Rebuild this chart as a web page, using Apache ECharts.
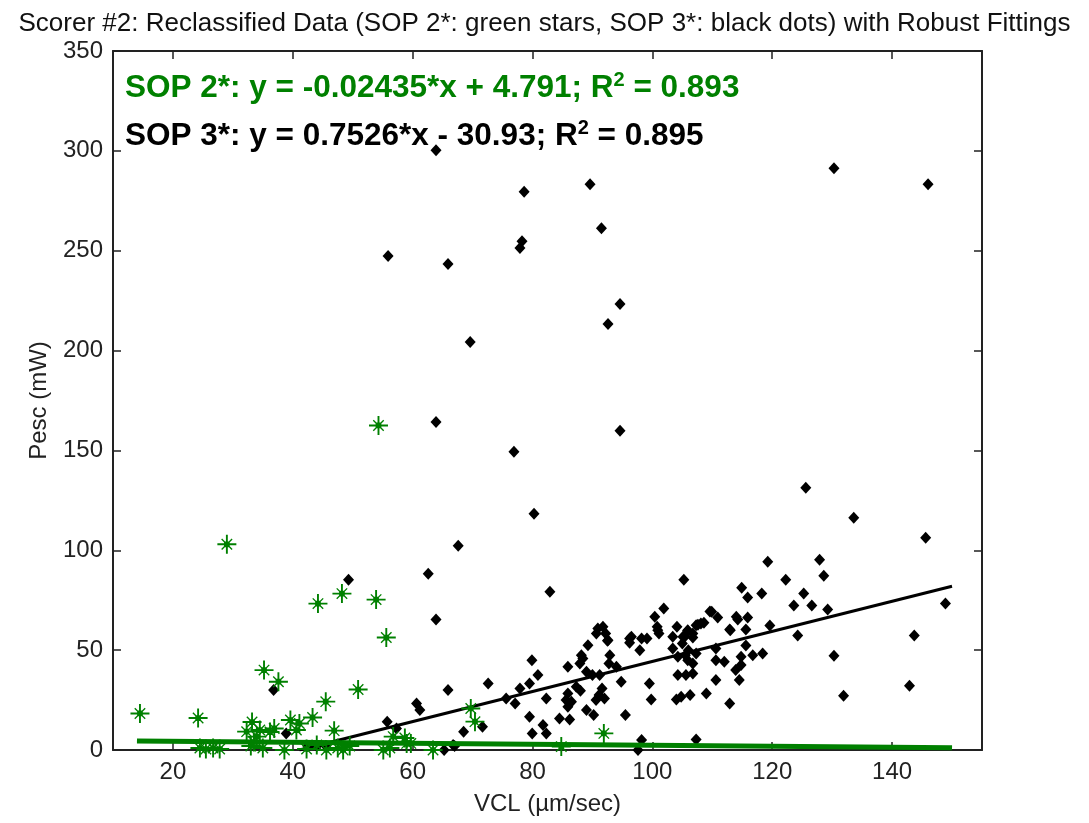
<!DOCTYPE html>
<html>
<head>
<meta charset="utf-8">
<script src="https://cdn.jsdelivr.net/npm/echarts@6/dist/echarts.min.js"></script>
<style>
  html, body { margin: 0; padding: 0; background: #fff; }
  #chart { width: 1089px; height: 823px; }
</style>
</head>
<body>
<div id="chart"></div>
<script>
// tick labels
var xTicks = [20, 40, 60, 80, 100, 120, 140];

// SOP 2* (green stars): [VCL, Pesc]
var sop2 = [
  [14.5, 18.3], [24.2, 16], [24.5, 1], [25.5, 0.5], [26.7, 1], [27.8, 0.5], [29, 103],
  [32.3, 9.2], [33.2, 14], [33.5, 4], [34, 6.7], [34.5, 10], [33, 2], [35, 1],
  [35.2, 40], [36.2, 9], [36.9, 10.8], [37.6, 34.2], [38.6, 0], [39.6, 15], [40.6, 10],
  [41.1, 13.3], [42.3, 0.5], [43.3, 16.3], [44.2, 73.3], [44, 2.5], [45.5, 24.2],
  [45.6, 0], [46.9, 9.7], [47.5, 1], [48.2, 78.3], [48.4, 0], [49.5, 2], [50.9, 30.3],
  [53.9, 75.3], [54.3, 162.5], [55.1, 0], [55.6, 56.3], [56.2, 1], [56.75, 6.7],
  [58.7, 6], [59, 3.3], [59.7, 3.3], [63.4, 0], [69.7, 20.8], [70.4, 14.2],
  [84.8, 1.7], [91.9, 8.3]
];

// SOP 3* (black dots): [VCL, Pesc]
var sop3 = [
  [63.9, 300.3], [78.6, 279.5], [89.6, 283.3], [91.5, 261.3], [78.25, 254.7], [77.9, 251.3],
  [55.9, 247.3], [65.9, 243.3], [94.6, 223.3], [92.6, 213.3], [69.6, 204.3], [63.9, 164.2],
  [94.6, 159.8], [76.9, 149.3], [80.25, 118.3], [67.6, 102.3], [62.6, 88.3], [49.3, 85.2],
  [82.9, 79.3], [63.9, 65.3], [105.25, 85.3], [130.3, 291.3], [146, 283.3], [125.6, 131.3],
  [133.6, 116.3], [145.6, 106.3], [119.25, 94.2], [127.9, 95.3], [128.6, 87.3], [114.9, 81.3],
  [115.9, 76.3], [118.25, 78.3], [122.25, 85.3], [125.25, 78.3], [123.6, 72.3], [126.6, 72.3],
  [129.25, 70.3], [148.9, 73.3], [143.7, 57.3], [124.25, 57.3], [109.6, 69.3], [110.9, 66.3],
  [108.6, 63.7], [107.6, 62.7], [114.25, 65.3], [115.9, 66.3], [112.9, 60.3], [115.6, 60.3],
  [119.6, 62.3], [115.6, 52.3], [105.9, 59.7], [130.3, 47.2], [131.9, 27.2], [142.9, 32.2],
  [101.9, 70.8], [100.4, 66.7], [109.9, 69.2], [100.8, 61.7], [104.1, 61.7], [105.9, 60],
  [108.1, 63.3], [114, 66.7], [113, 60], [90.9, 60.8], [91.75, 61.7], [90.65, 58.3],
  [92.2, 58.3], [92.5, 54.7], [96.5, 56.7], [98.2, 55.8], [99.1, 55.8], [96.2, 53.7],
  [97.9, 50], [101.1, 58.3], [103.4, 56.7], [105.4, 56.7], [106.75, 56.3], [105, 53.3],
  [103.4, 50.8], [105.5, 47.5], [107.3, 48.3], [110.6, 50.8], [104.25, 46.7], [105.9, 45],
  [106.75, 43.3], [110.6, 45], [112, 44.2], [114.8, 46.7], [116.75, 47.5], [118.4, 48.3],
  [114.8, 42.5], [113.9, 40], [114.5, 35], [110.6, 35], [105.6, 37.5], [106.75, 38.3],
  [104.25, 37.5], [99.5, 33.3], [99.8, 25.3], [104, 25.3], [104.8, 26.7], [106.3, 27.5],
  [109, 28.3], [112.9, 23.3], [107.3, 5.3], [98.2, 5], [97.6, 0], [94.8, 34.2], [95.5, 17.5],
  [91.6, 30.8], [91.1, 27.5], [92, 25.8], [90.6, 25], [91.2, 37.5], [92.75, 43.3], [94, 41.7],
  [92.9, 47.5], [90.2, 17.5], [89, 20], [88, 29.7], [87.3, 31.7], [85.9, 28.3], [85.6, 25],
  [85.9, 21.7], [86.5, 24.2], [84.5, 15.8], [86.2, 15.3], [85.9, 41.7], [87.9, 43.3],
  [88.4, 45.8], [89.25, 52.5], [88.15, 47.5], [89, 39.2], [90, 37.5], [82.3, 25.8],
  [80.9, 37.5], [79.9, 45], [79.5, 33.3], [77.9, 30.8], [77.1, 23.3], [75.6, 25.8],
  [79.5, 16.7], [81.75, 12.5], [82.3, 8.3], [79.95, 8.3], [72.6, 33.3], [65.9, 30],
  [68.5, 9.2], [71.65, 11.7], [65.25, 0], [67, 2], [36.8, 30], [60.65, 23.3], [61.2, 20],
  [55.75, 14.2], [57.3, 10.8], [38.9, 8.3], [42.5, 2], [44, 2], [45.5, 2], [66.75, 2.5],
  [92.6, 55], [96.2, 55.8], [100.9, 60], [107.3, 62.5], [105.1, 56.7], [106.75, 58.3], [106, 50]
];

// robust fit lines (end points)
var sop2Fit = [[14, 4.45], [150, 1.14]];
var sop3Fit = [[41.1, 0], [150, 81.96]];

var GREEN = '#008000';
// MATLAB-like '*' marker
var starPath = 'path://M9,0h2v20h-2z M0,9h20v2h-20z M4,5L5,4L16,15L15,16Z M15,4L16,5L5,16L4,15Z M7,7h6v6h-6z';

var chart = echarts.init(document.getElementById('chart'));

var axisCommon = {
  axisLine: { show: true, onZero: false, lineStyle: { color: '#222', width: 2 } },
  splitLine: { show: false }
};

chart.setOption({
  animation: false,
  backgroundColor: '#fff',
  textStyle: { fontFamily: 'Liberation Sans, Arial, sans-serif' },
  title: [
    {
      text: 'Scorer #2: Reclassified Data (SOP 2*: green stars, SOP 3*: black dots) with Robust Fittings',
      left: 'center', top: 6,
      textStyle: { fontSize: 26, fontWeight: 'normal', color: '#111' }
    },
    {
      text: '{a|SOP 2*: y = -0.02435*x + 4.791; R}{s|2}{a| = 0.893}',
      left: 120, top: 65,
      textStyle: {
        rich: {
          a: { fontSize: 31.5, fontWeight: 'bold', color: GREEN },
          s: { fontSize: 20, fontWeight: 'bold', color: GREEN, padding: [0, 0, 17, 0] }
        }
      }
    },
    {
      text: '{a|SOP 3*: y = 0.7526*x - 30.93; R}{s|2}{a| = 0.895}',
      left: 120, top: 113,
      textStyle: {
        rich: {
          a: { fontSize: 31.5, fontWeight: 'bold', color: '#000' },
          s: { fontSize: 20, fontWeight: 'bold', color: '#000', padding: [0, 0, 17, 0] }
        }
      }
    }
  ],
  grid: { left: 113, right: 107, top: 51, bottom: 73, containLabel: false },
  xAxis: [
    Object.assign({}, axisCommon, {
      type: 'value', min: 10, max: 155, position: 'bottom',
      name: 'VCL (\u00b5m/sec)', nameLocation: 'middle', nameGap: 42,
      nameTextStyle: { fontSize: 24, color: '#222' },
      axisTick: { show: true, inside: true, length: 8, customValues: xTicks, lineStyle: { color: '#222', width: 1.5 } },
      axisLabel: { customValues: xTicks, fontSize: 24, color: '#222', margin: 10 }
    }),
    Object.assign({}, axisCommon, {
      type: 'value', min: 10, max: 155, position: 'top',
      axisTick: { show: true, inside: true, length: 8, customValues: xTicks, lineStyle: { color: '#222', width: 1.5 } },
      axisLabel: { show: false }
    })
  ],
  yAxis: [
    Object.assign({}, axisCommon, {
      type: 'value', min: 0, max: 350, interval: 50, position: 'left',
      name: 'Pesc (mW)', nameLocation: 'middle', nameGap: 62,
      nameTextStyle: { fontSize: 24, color: '#222' },
      axisTick: { show: true, inside: true, length: 8, lineStyle: { color: '#222', width: 1.5 } },
      axisLabel: { fontSize: 24, color: '#222', margin: 10 }
    }),
    Object.assign({}, axisCommon, {
      type: 'value', min: 0, max: 350, interval: 50, position: 'right',
      axisTick: { show: true, inside: true, length: 8, lineStyle: { color: '#222', width: 1.5 } },
      axisLabel: { show: false }
    })
  ],
  series: [
    {
      name: 'SOP 3*', type: 'scatter', data: sop3,
      symbol: 'diamond', symbolSize: [11, 12],
      itemStyle: { color: '#000', opacity: 1 }, z: 2
    },
    {
      name: 'SOP 3* fit', type: 'line', data: sop3Fit, showSymbol: false,
      lineStyle: { color: '#000', width: 3 }, z: 3
    },
    {
      name: 'SOP 2*', type: 'scatter', data: sop2,
      symbol: starPath, symbolSize: 19,
      itemStyle: { color: GREEN, opacity: 1 }, z: 4
    },
    {
      name: 'SOP 2* fit', type: 'line', data: sop2Fit, showSymbol: false,
      lineStyle: { color: GREEN, width: 5 }, z: 5
    }
  ]
});

window.addEventListener('resize', function () {
  chart.resize();
});
</script>
</body>
</html>
